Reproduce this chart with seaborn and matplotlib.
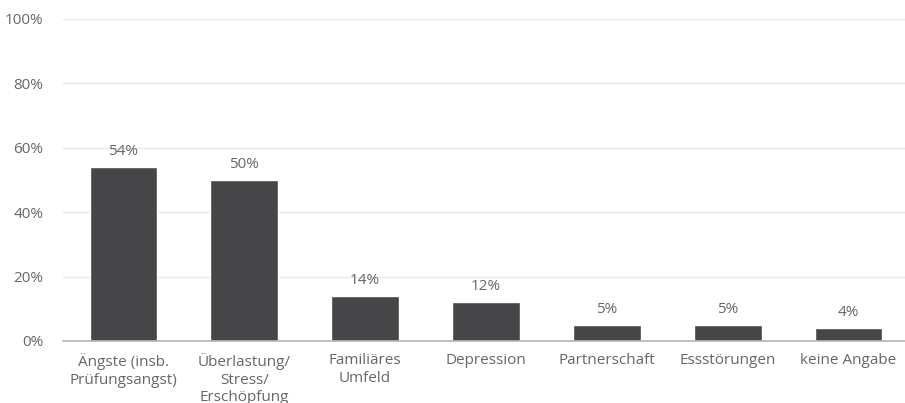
import matplotlib
matplotlib.use("Agg")
import matplotlib.pyplot as plt
import seaborn as sns
import pandas as pd

categories = ["Ängste (insb.\nPrüfungsangst)", "Überlastung/\nStress/\nErschöpfung",
              "Familiäres\nUmfeld", "Depression", "Partnerschaft", "Essstörungen", "keine Angabe"]
values = [54, 50, 14, 12, 5, 5, 4]
yticks = [0, 20, 40, 60, 80, 100]

sns.set_theme(style="white")
plt.rcParams['font.family'] = ['Open Sans', 'DejaVu Sans']

df = pd.DataFrame({"cat": categories, "val": values})
fig = plt.figure(figsize=(9.05, 4.03), dpi=100)
ax = fig.add_axes([0.0696, 0.154, 0.9348, 0.799])
sns.barplot(data=df, x="cat", y="val", color="#464648", width=0.56, ax=ax, saturation=1)
ax.set_ylim(0, 100)
ax.set_xlim(-0.5, 6.5)
ax.set_yticks(yticks)
ax.set_yticklabels([f"{t}%" for t in yticks])
ax.yaxis.grid(True, color="#e8e8e8", linewidth=1)
ax.set_axisbelow(True)
for s in ["top", "right", "left"]:
    ax.spines[s].set_visible(False)
ax.spines["bottom"].set_color("#b4b4b4")
ax.spines["bottom"].set_linewidth(1.2)
ax.set_xlabel("")
ax.set_ylabel("")
ax.tick_params(axis="both", length=0, labelsize=11, colors="#666666", pad=9)
ax.tick_params(axis="y", pad=14)
for lbl in ax.get_xticklabels():
    lbl.set_linespacing(1.2)
for i, v in enumerate(values):
    ax.annotate(f"{v}%", (i, v), xytext=(0, 6), textcoords="offset points",
                ha="center", va="bottom", fontsize=11, color="#666666")
fig.savefig("out.png", dpi=100)
